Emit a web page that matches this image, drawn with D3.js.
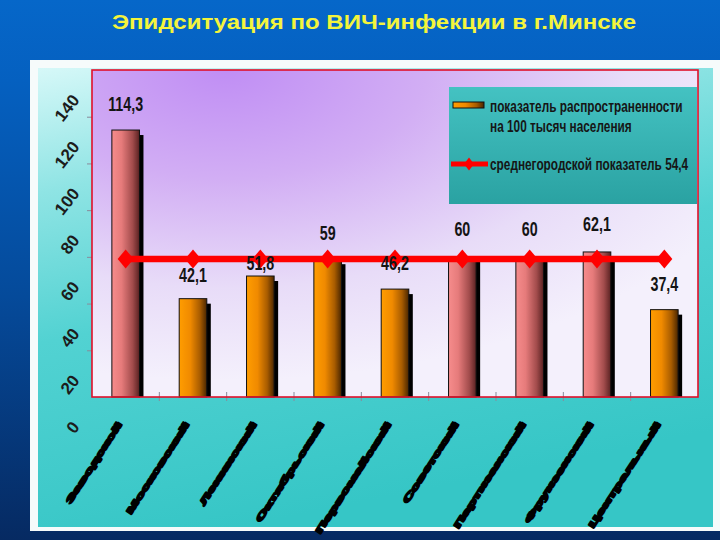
<!DOCTYPE html>
<html>
<head>
<meta charset="utf-8">
<script src="https://cdn.jsdelivr.net/npm/d3@7"></script>
<style>
  html, body { margin: 0; padding: 0; background: #0560c0; }
  svg { display: block; }
</style>
</head>
<body>
<div id="chart"></div>
<script>
// ---------------- data ----------------
const titleText = "Эпидситуация по ВИЧ-инфекции в г.Минске";
const districts = ["Заводской", "Московский", "Ленинский", "Октябрьский", "Первомайский",
                   "Советский", "Партизанский", "Фрунзенский", "Центральный"];
const prevalence = [114.3, 42.1, 51.8, 59, 46.2, 60, 60, 62.1, 37.4];
const valueLabels = ["114,3", "42,1", "51,8", "59", "46,2", "60", "60", "62,1", "37,4"];
const cityAverage = 54.4;
const yTicks = [0, 20, 40, 60, 80, 100, 120, 140];
const yTickLabels = ["0", "20", "40", "60", "80", "100", "120", "140"];
const legendBarLines = ["показатель распространенности", "на 100 тысяч населения"];
const legendLineText = "среднегородской показатель 54,4";

// ---------------- layout ----------------
const W = 720, H = 540;
const plot = { left: 92, right: 698, top: 70, bottom: 397 };
const depth = { dx: 4, dy: 5, line: 11, axis: 27 };

const svg = d3.select("#chart").append("svg").attr("width", W).attr("height", H);
const defs = svg.append("defs");

function linGrad(id, x1, y1, x2, y2, stops) {
  const g = defs.append("linearGradient").attr("id", id)
    .attr("x1", x1).attr("y1", y1).attr("x2", x2).attr("y2", y2);
  stops.forEach(s => g.append("stop").attr("offset", s[0]).attr("stop-color", s[1]));
}
linGrad("pageBg", 0, 0, 0, 1, [[0, "#0667c9"], [0.15, "#0560c0"], [0.55, "#054a9a"], [1, "#062a62"]]);
linGrad("panelBg", 0, 0, 0.3, 1, [[0, "#d6f8f8"], [0.25, "#8fe4e4"], [0.55, "#52d2d2"], [1, "#36c6c6"]]);
linGrad("legendBg", 0, 0, 0, 1, [[0, "#44c2c2"], [1, "#2aa2a2"]]);
linGrad("pinkBar", 0, 0, 1, 0, [[0, "#f68c8c"], [0.35, "#e67b7b"], [0.75, "#a24c4c"], [1, "#5a2222"]]);
linGrad("orangeBar", 0, 0, 1, 0, [[0, "#ff9d00"], [0.4, "#f08a00"], [0.75, "#a85c00"], [1, "#4a2600"]]);
const rg = defs.append("radialGradient").attr("id", "plotBg")
  .attr("cx", 0.22).attr("cy", 0).attr("r", 0.95).attr("fx", 0.22).attr("fy", 0);
[[0, "#c08ef4"], [0.35, "#d2aef4"], [0.7, "#e8dcf8"], [1, "#f4f0fc"]]
  .forEach(s => rg.append("stop").attr("offset", s[0]).attr("stop-color", s[1]));

// page background
svg.append("rect").attr("width", W).attr("height", H).attr("fill", "url(#pageBg)");

// title
const title = svg.append("text")
  .attr("x", 374).attr("y", 29)
  .attr("text-anchor", "middle")
  .attr("font-family", "'Liberation Sans', Arial, sans-serif")
  .attr("font-weight", "bold").attr("font-size", 21)
  .attr("fill", "#f4f43c")
  .text(titleText);
const tw = title.node().getComputedTextLength();
if (Math.abs(tw - 524) > 8) title.attr("textLength", 524).attr("lengthAdjust", "spacingAndGlyphs");

// chart panel
svg.append("rect").attr("x", 30).attr("y", 60).attr("width", 690).attr("height", 471).attr("fill", "#f6fbfb");
svg.append("rect").attr("x", 38).attr("y", 68).attr("width", 675).attr("height", 459).attr("fill", "url(#panelBg)");

// scales
const y = d3.scaleLinear().domain([0, 140]).range([plot.bottom, plot.top]);
const x = d3.scaleBand().domain(districts).range([plot.left, plot.right])
  .paddingInner(0.59).paddingOuter(0.295);
const bw = x.bandwidth();

// plot area
svg.append("rect")
  .attr("x", plot.left).attr("y", plot.top)
  .attr("width", plot.right - plot.left).attr("height", plot.bottom - plot.top)
  .attr("fill", "url(#plotBg)");

// y axis ticks
const yAxis = svg.append("g").attr("transform", `translate(${plot.left},0)`)
  .call(d3.axisLeft(y).tickValues(yTicks.slice(1, -1)).tickSize(5).tickFormat(""));
yAxis.select(".domain").remove();
yAxis.selectAll(".tick line").attr("stroke", "#8a8a9a").attr("stroke-width", 1);

// y tick labels (3D offset)
svg.append("g").selectAll("text").data(yTicks).join("text")
  .attr("transform", d => `translate(76,${y(d) + depth.axis}) rotate(-52)`)
  .attr("text-anchor", "end")
  .attr("dominant-baseline", "central")
  .attr("font-family", "'Liberation Sans', Arial, sans-serif")
  .attr("font-weight", "bold").attr("font-size", 17)
  .attr("fill", "#1c1c1c")
  .text((d, i) => yTickLabels[i]);

// x axis ticks at category boundaries
const boundaries = d3.range(districts.length + 1).map(i => plot.left + i * x.step());
svg.append("g").selectAll("line").data(boundaries.slice(1, -1)).join("line")
  .attr("x1", d => d).attr("x2", d => d)
  .attr("y1", plot.bottom - 5).attr("y2", plot.bottom + 4)
  .attr("stroke", "#8a8a9a").attr("stroke-width", 1);

// legend box
const lg = svg.append("g");
lg.append("rect").attr("x", 449).attr("y", 87).attr("width", 248).attr("height", 117)
  .attr("fill", "url(#legendBg)");

// bars
const isHigh = v => v >= 60;
const bars = svg.append("g");
bars.selectAll("rect.shadow").data(prevalence).join("rect").attr("class", "shadow")
  .attr("x", (d, i) => x(districts[i]) + depth.dx)
  .attr("y", d => y(d) + depth.dy)
  .attr("width", bw)
  .attr("height", d => plot.bottom - y(d) - depth.dy)
  .attr("fill", "#000");
bars.selectAll("rect.front").data(prevalence).join("rect").attr("class", "front")
  .attr("x", (d, i) => x(districts[i]))
  .attr("y", d => y(d))
  .attr("width", bw)
  .attr("height", d => plot.bottom - y(d))
  .attr("fill", d => isHigh(d) ? "url(#pinkBar)" : "url(#orangeBar)")
  .attr("stroke", "#111").attr("stroke-width", 1);

// plot border
svg.append("rect")
  .attr("x", plot.left).attr("y", plot.top)
  .attr("width", plot.right - plot.left).attr("height", plot.bottom - plot.top)
  .attr("fill", "none").attr("stroke", "#e0102a").attr("stroke-width", 1.6);

// average line
const lineY = y(cityAverage) - depth.line;
const cx = d => x(d) + bw / 2;
svg.append("path")
  .datum(districts)
  .attr("d", d3.line().x(d => cx(d)).y(() => lineY))
  .attr("fill", "none").attr("stroke", "#ff0000").attr("stroke-width", 6.5);
const diamond = (hw, hh) => `M0,${-hh}L${hw},0L0,${hh}L${-hw},0Z`;
svg.append("g").selectAll("path").data(districts).join("path")
  .attr("transform", d => `translate(${cx(d)},${lineY})`)
  .attr("d", diamond(8, 9.5))
  .attr("fill", "#ff0000");

// value labels
const valueLabelNudge = [0, 2, 13, 0, 0, -2, -2, -2, 0];
svg.append("g").selectAll("text").data(prevalence).join("text")
  .attr("transform", (d, i) => `translate(${cx(districts[i])},${y(d) - 26 + valueLabelNudge[i]}) scale(0.68,1)`)
  .attr("text-anchor", "middle")
  .attr("dominant-baseline", "central")
  .attr("font-family", "'Liberation Sans', Arial, sans-serif")
  .attr("font-weight", "bold").attr("font-size", 21)
  .attr("fill", "#141414")
  .text((d, i) => valueLabels[i]);

// category labels (heavy rotated text)
svg.append("g").selectAll("text").data(districts).join("text")
  .attr("transform", d => `translate(${cx(d) - 6},${plot.bottom + 26}) rotate(-57) scale(1,0.5)`)
  .attr("text-anchor", "end")
  .attr("dominant-baseline", "central")
  .attr("font-family", "'Liberation Sans', Arial, sans-serif")
  .attr("font-weight", "bold").attr("font-size", 18)
  .attr("fill", "#000").attr("stroke", "#000").attr("stroke-width", 3.5)
  .attr("stroke-linejoin", "round")
  .text(d => d);

// legend contents
lg.append("rect").attr("x", 453).attr("y", 102).attr("width", 31).attr("height", 6)
  .attr("fill", "url(#orangeBar)").attr("stroke", "#111").attr("stroke-width", 1);
lg.append("line").attr("x1", 451).attr("x2", 488).attr("y1", 164).attr("y2", 164)
  .attr("stroke", "#ff0000").attr("stroke-width", 5);
lg.append("path").attr("transform", "translate(469,164)").attr("d", diamond(5, 6.5)).attr("fill", "#ff0000");

const legendTexts = [
  { t: legendBarLines[0], y: 112 },
  { t: legendBarLines[1], y: 132 },
  { t: legendLineText, y: 170 }
];
lg.selectAll("text").data(legendTexts).join("text")
  .attr("transform", d => `translate(490,${d.y}) scale(0.74,1)`)
  .attr("font-family", "'Liberation Sans', Arial, sans-serif")
  .attr("font-weight", "bold").attr("font-size", 16)
  .attr("fill", "#161616")
  .text(d => d.t);
</script>
</body>
</html>
